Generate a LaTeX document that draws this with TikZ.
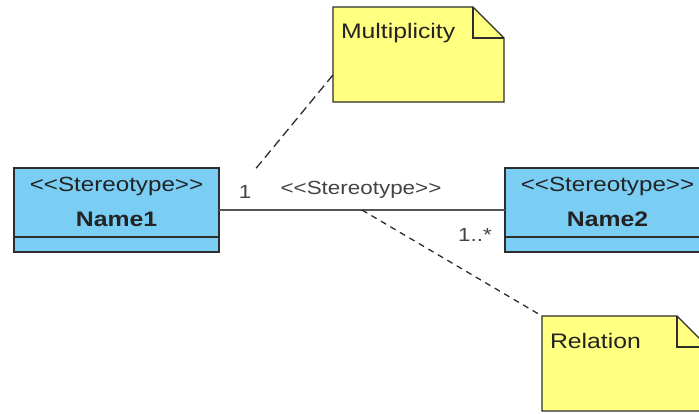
\documentclass[tikz,border=0pt]{standalone}
\usepackage{fontspec}
% a family of its own, so that << is not turned into a guillemet
\newfontfamily\uifont[FakeStretch=1.18]{Liberation Sans}
\usetikzlibrary{calc}
\definecolor{classblue}{RGB}{122,206,244}
\definecolor{noteyellow}{RGB}{255,255,128}
\definecolor{edgegray}{RGB}{45,45,45}
\definecolor{inkgray}{RGB}{35,35,35}
\definecolor{linegray}{RGB}{85,85,85}
\begin{document}
\begin{tikzpicture}[x=1pt,y=-1pt,
  every node/.style={inner sep=0pt,outer sep=0pt,text=inkgray},
  classbox/.style={draw=edgegray,fill=classblue,line width=1.4pt,
    minimum width=205pt,minimum height=84pt,anchor=north west},
  sepline/.style={draw=edgegray,line width=1.4pt},
  stereo/.style={font=\uifont\fontsize{20.5}{24}\selectfont},
  cname/.style={font=\uifont\fontsize{21}{24}\selectfont\bfseries},
  assoclabel/.style={font=\uifont\fontsize{19}{22}\selectfont,text=linegray!80!black},
  assocline/.style={draw=linegray,line width=1.2pt},
  notearea/.style={minimum width=171pt,minimum height=95pt,anchor=north west},
  notebody/.style={fill=noteyellow,draw=edgegray,line width=1.1pt,line join=miter},
  notetext/.style={font=\uifont\fontsize{21}{24}\selectfont,anchor=base west},
  anchorline/.style={draw=edgegray,line width=1.3pt,dash pattern=on 9pt off 5pt},
  relline/.style={draw=edgegray,line width=1.3pt,dash pattern=on 6pt off 5pt}]

% page frame
\useasboundingbox (0,0) rectangle (699,413);
\clip (0,0) rectangle (699,413);
\fill[white] (0,0) rectangle (699,413);

% ---------- classes ----------
\node[classbox] (c1) at (14,168) {};
\draw[sepline] ([yshift=-69pt]c1.north west) -- ([yshift=-69pt]c1.north east);
\node[stereo] (c1s) at ([yshift=-18pt]c1.north) {<<Stereotype>>};
\node[cname]  (c1n) at ([yshift=-51pt]c1.north) {Name1};

\node[classbox] (c2) at (505,168) {};
\draw[sepline] ([yshift=-69pt]c2.north west) -- ([yshift=-69pt]c2.north east);
\node[stereo] (c2s) at ([yshift=-18pt]c2.north) {<<Stereotype>>};
\node[cname]  (c2n) at ([yshift=-51pt]c2.north) {Name2};

% ---------- association ----------
\draw[assocline] (c1.east) -- (c2.west);
\node[assoclabel] (m1)  at (245,192) {1};
\node[assoclabel] (st)  at (361,190) {<<Stereotype>>};
\node[assoclabel] (m2)  at (475,235) {1..*};
\coordinate (mid) at ($(c1.east)!0.5!(c2.west)$);

% ---------- notes ----------
\node[notearea] (n1) at (333,7) {};
\draw[notebody] (n1.north west) -- ([xshift=-31pt]n1.north east)
  -- ([yshift=-31pt]n1.north east) -- (n1.south east) -- (n1.south west) -- cycle;
\draw[notebody,fill=none] ([xshift=-31pt]n1.north east) |- ([yshift=-31pt]n1.north east);
\node[notetext] (n1t) at (341,38) {Multiplicity};

\node[notearea,minimum width=166pt] (n2) at (542,316) {};
\draw[notebody] (n2.north west) -- ([xshift=-31pt]n2.north east)
  -- ([yshift=-31pt]n2.north east) -- (n2.south east) -- (n2.south west) -- cycle;
\draw[notebody,fill=none] ([xshift=-31pt]n2.north east) |- ([yshift=-31pt]n2.north east);
\node[notetext] (n2t) at (550,348) {Relation};

% ---------- note anchors ----------
\coordinate (n1a) at ($(n1.north west)!0.715!(n1.south west)$);
\coordinate (m1a) at (253,172);
\draw[anchorline] (n1a) -- (m1a);
\draw[relline] (mid) -- (n2.north west);
\end{tikzpicture}
\end{document}
